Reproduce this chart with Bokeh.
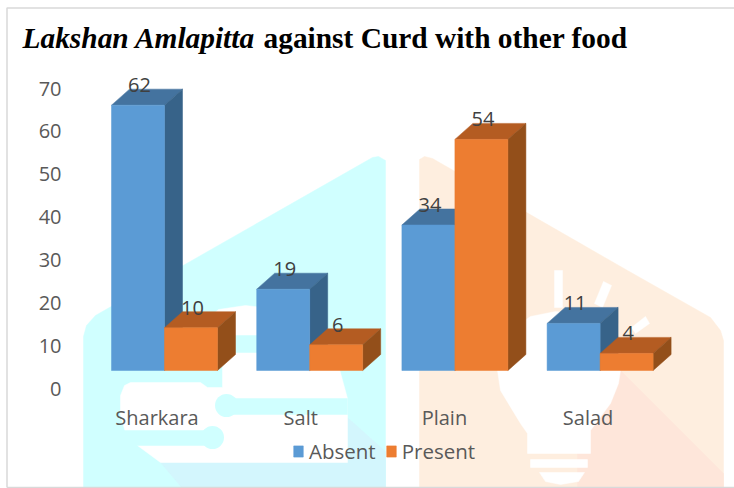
from bokeh.plotting import figure
from bokeh.embed import file_html
from bokeh.resources import INLINE
from bokeh.core.properties import value
from bokeh.models import Range1d, LinearAxis, FixedTicker, Label, Legend, LegendItem

categories = ["Sharkara", "Salt", "Plain", "Salad"]
absent = [62, 19, 34, 11]
present = [10, 6, 54, 4]
y_ticks = [0, 10, 20, 30, 40, 50, 60, 70]
series_names = ["Absent", "Present"]
title_italic = "Lakshan Amlapitta"
title_rest = "against Curd with other food"

W, H = 734, 488
UX, X0 = 145.2, 164.0      # px per group, px of first group
UY, Y0 = 4.28, 370.0       # px per unit, px of zero (front face)
BAR = 53 / UX
DX, DY = 18 / UX, 16 / UY

p = figure(width=W, height=H, output_backend="svg", toolbar_location=None,
           x_range=Range1d(-X0 / UX, (W - X0) / UX),
           y_range=Range1d((Y0 - H) / UY, Y0 / UY),
           min_border=0, outline_line_color=None, background_fill_color="white",
           x_axis_type=None, y_axis_type=None,
           styles={"position": "absolute", "left": "0", "top": "0"})
p.xgrid.visible = False
p.ygrid.visible = False
p.grid.visible = False

p.extra_x_ranges["px"] = Range1d(0, W)
p.extra_y_ranges["px"] = Range1d(H, 0)
# axis label positions sit apart from the bars, as in the picture
p.extra_x_ranges["ax"] = Range1d(-156.5 / 143.7, (W - 156.5) / 143.7)
p.extra_y_ranges["ax"] = Range1d((388 - H) / (300 / 70), 388 / (300 / 70))

# ---------- background watermark (decoration, page pixels) ----------
CYAN, CYAN2, PEACH, PEACH2 = "#D0FFFF", "#D3F6FD", "#FEEEDF", "#FEE6DA"
def deco(xs, ys, color):
    p.patch(xs, ys, fill_color=color, line_color=color, line_width=0.5,
            x_range_name="px", y_range_name="px")
def deco_pts(pts, color):
    deco([a for a, _ in pts], [b for _, b in pts], color)

deco_pts([(83, 488), (83, 336), (86, 325), (95, 315), (372, 157), (378, 156), (385, 160), (385, 488)], CYAN)
deco_pts([(347, 417), (385, 451), (385, 488), (182, 488), (160, 462), (347, 462)], CYAN2)
deco_pts([(124, 385), (130, 382), (200, 382), (207, 387), (222, 387), (222, 352), (205, 320), (218, 309),
          (245, 305), (290, 310), (320, 335), (338, 365), (347, 398), (347, 462), (160, 462), (137, 445),
          (125, 432), (120, 415), (120, 395)], "white")
deco_pts([(235, 335), (262, 335), (262, 352), (235, 352)], CYAN)
deco_pts([(226, 398), (347, 398), (347, 414), (226, 414)], CYAN)
deco_pts([(110, 430), (212, 430), (212, 445), (110, 445)], CYAN)
p.scatter([226, 212], [405, 437], size=23, marker="circle", fill_color=CYAN, line_color=None,
          x_range_name="px", y_range_name="px")

deco_pts([(419, 488), (419, 159), (424, 156), (432, 158), (627, 270), (710, 317), (720, 330), (723, 340), (723, 488)], PEACH)
deco_pts([(620, 370), (723, 473), (723, 488), (577, 488), (577, 450), (590, 430), (610, 400)], PEACH2)
deco_pts([(497, 370), (500, 345), (510, 330), (530, 316), (555, 311), (590, 315), (610, 330), (620, 350), (620, 370),
          (618, 383), (610, 403), (590, 430), (590, 453), (527, 453), (527, 433), (520, 423), (500, 390)], "white")
deco_pts([(530, 459), (587, 459), (587, 467), (530, 467)], "white")
deco_pts([(539, 472), (584, 472), (578, 481), (560, 484), (545, 481)], "white")
deco_pts([(554, 270), (562, 270), (562, 307), (554, 307)], "white")
deco_pts([(603, 281), (611, 285), (602, 307), (594, 303)], "white")
deco_pts([(645, 316), (649, 323), (635, 333), (631, 327)], "white")

# border of the page
p.multi_line([[6.5, 6.5, W], [6.5, W]], [[487, 7.5, 7.5], [487, 487]], line_color="#D9D9D9", line_width=1.5,
             x_range_name="px", y_range_name="px")

# ---------- 3D bars ----------
def bars(vals, offset, front, top, side):
    x = [i + offset for i in range(len(vals))]
    l = [c - BAR / 2 for c in x]
    r = [c + BAR / 2 for c in x]
    p.patches([[a, b, b + DX, a + DX] for a, b in zip(l, r)],
              [[v, v, v + DY, v + DY] for v in vals], fill_color=top, line_color=top, line_width=0.5)
    p.patches([[b, b + DX, b + DX, b] for b in r],
              [[0, DY, v + DY, v] for v in vals], fill_color=side, line_color=side, line_width=0.5)
    return p.vbar(x=x, top=vals, bottom=0, width=BAR, fill_color=front, line_color=front, line_width=0.5)

r_abs = bars(absent, -BAR / 2, "#5B9BD5", "#44739F", "#376389")
r_pre = bars(present, BAR / 2, "#ED7D31", "#B45C22", "#934F1A")

# ---------- value labels ----------
for vals, offset in ((absent, -BAR / 2), (present, BAR / 2)):
    p.text([i + offset for i in range(len(vals))], vals, text=[str(v) for v in vals],
           x_offset=1.5, y_offset=-20, text_align="center", text_baseline="middle",
           text_font=value("Open Sans"), text_font_size="20px", text_color="#404040")

# ---------- axes ----------
yaxis = LinearAxis(y_range_name="ax", fixed_location=(69 - X0) / UX, ticker=FixedTicker(ticks=y_ticks),
                   axis_line_color=None, major_tick_line_color=None, minor_tick_line_color=None,
                   major_label_standoff=2, major_label_text_font="Open Sans",
                   major_label_text_font_size="20px", major_label_text_color="#595959")
p.add_layout(yaxis, "left")
xaxis = LinearAxis(x_range_name="ax", fixed_location=(Y0 - 397) / UY,
                   ticker=FixedTicker(ticks=list(range(len(categories)))),
                   major_label_overrides={i: c for i, c in enumerate(categories)},
                   axis_line_color=None, major_tick_line_color=None, minor_tick_line_color=None,
                   major_label_standoff=0, major_label_text_font="Open Sans",
                   major_label_text_font_size="20px", major_label_text_color="#595959")
p.add_layout(xaxis, "below")

# ---------- legend ----------
legend = Legend(items=[LegendItem(label=series_names[0], renderers=[r_abs]),
                       LegendItem(label=series_names[1], renderers=[r_pre])],
                orientation="horizontal", location=(292, 23), glyph_width=12, glyph_height=14,
                label_standoff=5, spacing=9, padding=0, margin=0, background_fill_alpha=0,
                border_line_color=None, label_text_font="Open Sans", label_text_font_size="20.5px",
                label_text_color="#595959")
p.add_layout(legend, "center")

# ---------- title ----------
p.add_layout(Label(x=22, y=H - 37, x_units="screen", y_units="screen", text=title_italic,
                   text_font="Liberation Serif", text_font_style="bold italic", text_font_size="29.4px",
                   text_color="black", text_baseline="alphabetic"))
p.add_layout(Label(x=263, y=H - 37, x_units="screen", y_units="screen", text=title_rest,
                   text_font="Liberation Serif", text_font_style="bold", text_font_size="29.4px",
                   text_color="black", text_baseline="alphabetic"))

open("out.html", "w").write(file_html(p, INLINE))
